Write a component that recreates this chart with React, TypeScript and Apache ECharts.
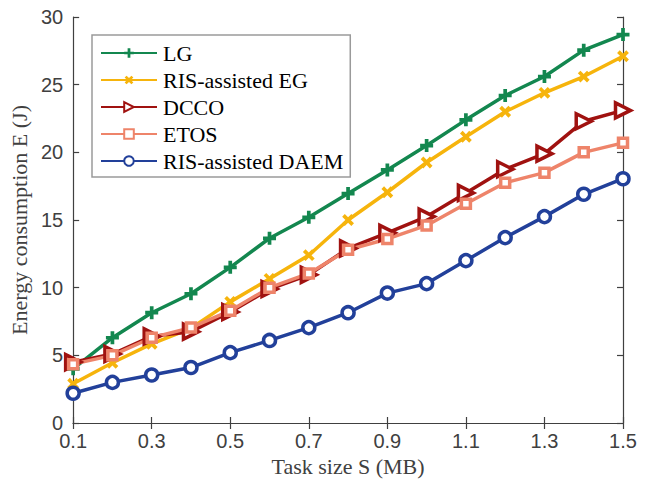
import React, { useEffect, useRef } from "react";
import * as echarts from "echarts";

const taskSizes = [0.1, 0.2, 0.3, 0.4, 0.5, 0.6, 0.7, 0.8, 0.9, 1.0, 1.1, 1.2, 1.3, 1.4, 1.5];
const lgValues = [4.0, 6.3, 8.15, 9.55, 11.5, 13.65, 15.2, 16.95, 18.7, 20.5, 22.4, 24.2, 25.6, 27.55, 28.7];
const risEgValues = [2.9, 4.45, 5.85, 7.0, 8.95, 10.65, 12.4, 15.0, 17.05, 19.25, 21.15, 23.0, 24.4, 25.6, 27.1];
const dccoValues = [4.5, 5.1, 6.4, 6.75, 8.2, 9.9, 10.95, 12.9, 14.05, 15.25, 17.0, 18.75, 19.9, 22.3, 23.1];
const etosValues = [4.35, 5.0, 6.3, 7.05, 8.3, 10.0, 11.05, 12.8, 13.6, 14.6, 16.2, 17.75, 18.5, 20.0, 20.7];
const daemValues = [2.2, 3.0, 3.55, 4.1, 5.2, 6.1, 7.05, 8.15, 9.6, 10.3, 12.0, 13.7, 15.25, 16.9, 18.05];
const seriesNames = ["LG", "RIS-assisted EG", "DCCO", "ETOS", "RIS-assisted DAEM"];

const PLUS = "path://M5,0 H9 V5 H14 V9 H9 V14 H5 V9 H0 V5 H5 Z";
const TRI_RIGHT = "path://M0,0 L12,6 L0,12 Z";

const SERIF = "'Liberation Serif', 'Times New Roman', serif";
const SANS = "'Liberation Sans', Arial, sans-serif";
const AXIS_COLOR = "#404040";

function pairs(vals: number[]) {
  return taskSizes.map((x, i) => [x, vals[i]]);
}

export default function App() {
  const ref = useRef<HTMLDivElement>(null);
  useEffect(() => {
    if (!ref.current) return;
    const chart = echarts.init(ref.current, undefined, { renderer: "svg" });
    const lineW = 3.5;
    const mk = (name: string, data: number[], color: string, symbol: string, size: number, extra: any = {}) => ({
      name,
      type: "line",
      data: pairs(data),
      xAxisIndex: 0,
      yAxisIndex: 0,
      symbol,
      symbolSize: size,
      lineStyle: { color, width: lineW },
      itemStyle: { color, borderColor: color, borderWidth: 0, ...(extra.itemStyle || {}) },
      symbolRotate: extra.symbolRotate || 0,
      z: extra.z || 2,
    });
    const tickStyle = { color: AXIS_COLOR, width: 1.2 };
    chart.setOption({
      animation: false,
      backgroundColor: "#fff",
      grid: { left: 73, right: 25, top: 17, bottom: 61, containLabel: false },
      legend: {
        orient: "vertical",
        left: 92,
        top: 35,
        padding: [7, 7, 5, 8],
        itemWidth: 56,
        itemHeight: 12,
        itemGap: 5,
        backgroundColor: "#fff",
        borderColor: "#9a9a9a",
        borderWidth: 1.5,
        borderRadius: 0,
        data: seriesNames,
        textStyle: { fontFamily: SERIF, fontSize: 22, color: "#000", lineHeight: 22, padding: [0, 0, 0, 1] },
      },
      xAxis: [
        {
          type: "value",
          min: 0.1,
          max: 1.5,
          interval: 0.2,
          position: "bottom",
          name: "Task size S (MB)",
          nameLocation: "middle",
          nameGap: 32,
          nameTextStyle: { fontFamily: SERIF, fontSize: 22, color: AXIS_COLOR },
          axisLine: { show: true, lineStyle: tickStyle },
          axisTick: { show: true, inside: true, length: 6, lineStyle: tickStyle },
          axisLabel: {
            fontFamily: SANS,
            fontSize: 20,
            color: AXIS_COLOR,
            margin: 8,
            formatter: (v: number) => v.toFixed(1),
          },
          splitLine: { show: false },
        },
        {
          type: "value",
          min: 0.1,
          max: 1.5,
          interval: 0.2,
          position: "top",
          axisLine: { show: true, lineStyle: tickStyle },
          axisTick: { show: true, inside: true, length: 6, lineStyle: tickStyle },
          axisLabel: { show: false },
          splitLine: { show: false },
        },
      ],
      yAxis: [
        {
          type: "value",
          min: 0,
          max: 30,
          interval: 5,
          position: "left",
          name: "Energy consumption E (J)",
          nameLocation: "middle",
          nameGap: 36,
          nameTextStyle: { fontFamily: SERIF, fontSize: 22, color: AXIS_COLOR },
          axisLine: { show: true, lineStyle: tickStyle },
          axisTick: { show: true, inside: true, length: 6, lineStyle: tickStyle },
          axisLabel: { fontFamily: SANS, fontSize: 20, color: AXIS_COLOR, margin: 10 },
          splitLine: { show: false },
        },
        {
          type: "value",
          min: 0,
          max: 30,
          interval: 5,
          position: "right",
          axisLine: { show: true, lineStyle: tickStyle },
          axisTick: { show: true, inside: true, length: 6, lineStyle: tickStyle },
          axisLabel: { show: false },
          splitLine: { show: false },
        },
      ],
      series: [
        mk(seriesNames[0], lgValues, "#13874f", PLUS, 13),
        mk(seriesNames[1], risEgValues, "#f6b40c", PLUS, 13, { symbolRotate: 45 }),
        mk(seriesNames[2], dccoValues, "#a01210", TRI_RIGHT, 15, {
          itemStyle: { color: "#fff", borderWidth: 3.5 },
        }),
        mk(seriesNames[3], etosValues, "#ee846a", "rect", 9, {
          itemStyle: { color: "#fff", borderWidth: 3.5 },
        }),
        mk(seriesNames[4], daemValues, "#22409a", "circle", 12, {
          itemStyle: { color: "#fff", borderWidth: 3.5 },
        }),
      ],
    });
    return () => chart.dispose();
  }, []);
  return (
    <div
      ref={ref}
      style={{ position: "fixed", left: 0, top: 0, width: 648, height: 484, background: "#fff" }}
    />
  );
}
